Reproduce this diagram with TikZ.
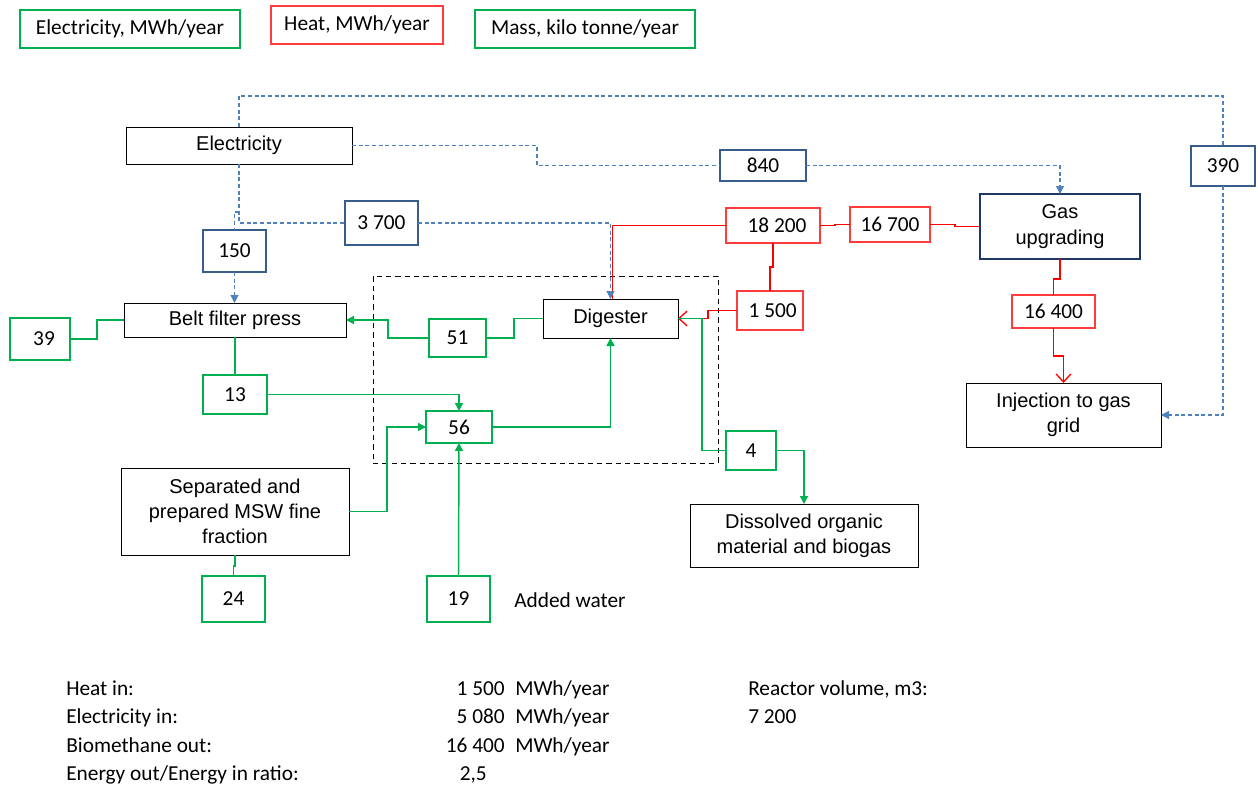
\documentclass[tikz,border=0pt]{standalone}
\usepackage{fontspec}
\setmainfont{Carlito}
\newfontfamily\arialf{Liberation Sans}
\usetikzlibrary{arrows.meta,calc}
\definecolor{gr}{HTML}{00B050}
\definecolor{rd}{HTML}{FF0000}
\definecolor{rdb}{HTML}{FF3B3B}
\definecolor{eb}{HTML}{4F81BD}
\definecolor{ebox}{HTML}{385D8A}
\definecolor{gasb}{HTML}{1F3864}
\newcommand\mybox[7]{\node[#6, minimum width={(#4-(#2))*0.75pt}, minimum height={(#5-(#3))*0.75pt}] (#1) at ({(#2+#4)/2},{(#3+#5)/2}) {#7};}
\tikzset{
 box/.style={draw, line width=0.75pt, inner sep=0pt, outer sep=0pt, font=\arialf\fontsize{15}{19}\selectfont, align=center},
 num/.style={draw, line width=0.9pt, inner sep=0pt, outer sep=0pt, font=\fontsize{16}{18}\selectfont},
 gnum/.style={num, draw=gr},
 rnum/.style={num, draw=rdb},
 enum/.style={num, draw=ebox},
 region/.style={draw, line width=0.75pt, dash pattern=on 4pt off 3pt, inner sep=0pt, outer sep=0pt},
 eline/.style={draw=eb, line width=0.8pt, dash pattern=on 3pt off 2pt},
 gline/.style={draw=gr, line width=1.1pt},
 rline/.style={draw=rd, line width=1pt},
 farrow/.style={-{Triangle[length=6pt,width=6pt]}},
 barb/.style={-{Straight Barb[length=6pt,width=11pt]}},
 txt/.style={inner sep=0pt, font=\fontsize{16}{18}\selectfont, anchor=base west},
 rtxt/.style={inner sep=0pt, font=\fontsize{16}{18}\selectfont, anchor=base east},
}
\begin{document}
\begin{tikzpicture}[x=0.75pt, y=-0.75pt]
\useasboundingbox (0,0) rectangle (1258,785);
% legend
\mybox{lg1}{20}{10}{240}{48}{gnum}{Electricity, MWh/year}
\mybox{lg2}{271}{6}{443}{44}{rnum}{Heat, MWh/year}
\mybox{lg3}{475}{10}{695}{48}{gnum}{Mass, kilo tonne/year}
% region
\mybox{reg}{373}{276}{718}{463}{region}{}
% nodes
\mybox{elec}{126}{127}{352}{164}{box}{Electricity}
\mybox{n840}{720}{150}{806}{181}{enum}{840}
\mybox{n390}{1191}{146}{1255}{186}{enum}{390}
\mybox{n3700}{345}{201}{418}{245}{enum}{3 700}
\mybox{n150}{203}{230}{266}{272}{enum}{150}
\mybox{n18200}{726}{208}{820}{243}{rnum}{\hspace*{6pt}18 200}
\mybox{n16700}{850}{207}{930}{242}{rnum}{16 700}
\mybox{gas}{980}{194}{1140}{259}{box,draw=gasb,line width=1.5pt}{Gas\\upgrading}
\mybox{belt}{124}{303}{346}{337}{box}{Belt filter press}
\mybox{n39}{10}{318}{70}{360}{gnum}{\hspace*{6pt}39}
\mybox{n51}{429}{319}{486}{357}{gnum}{51}
\mybox{dig}{543}{299}{678}{338}{box}{Digester}
\mybox{n1500}{737}{291}{803}{330}{rnum}{\hspace*{4pt}1 500}
\mybox{n16400}{1012}{295}{1095}{328}{rnum}{16 400}
\mybox{inj}{966}{383}{1161}{447}{box}{Injection to gas\\grid}
\mybox{n13}{203}{375}{267}{414}{gnum}{13}
\mybox{n56}{426}{411}{492}{443}{gnum}{56}
\mybox{n4}{726}{431}{776}{470}{gnum}{4}
\mybox{msw}{121}{468}{349}{555}{box}{Separated and\\prepared MSW fine\\fraction}
\mybox{dis}{690}{504}{918}{567}{box}{Dissolved organic\\material and biogas}
\mybox{n24}{202}{576}{265}{622}{gnum}{24}
\mybox{n19}{427}{576}{490}{622}{gnum}{19}
\node[txt] (water) at (514,607) {Added water};
% heat connectors
\draw[rline] (n18200.west) -| ($(dig.north)+(2,0)$);
\draw[rline] (n18200.east) -- ++(15,0) |- (n16700.west);
\draw[rline] (n16700.east) -- ++(25,0) |- (gas.west);
\draw[rline] (n18200.south) -- ++(0,24) -| (n1500.north);
\draw[rline,barb] (n1500.west) -- ++(-29,0) |- (dig.east);
\draw[rline] (gas.south) -- ++(0,20) -| (n16400.north);
\draw[rline,barb] (n16400.south) -- ++(0,28) -| (inj.north);
% electricity connectors
\draw[eline] (elec.north) -- ++(0,-31) -| (n390.north);
\draw[eline,farrow] (n390.south) |- (inj.east);
\draw[eline] (elec.east) -- ++(185,0) |- (n840.west);
\draw[eline,farrow] (n840.east) -| (gas.north);
\draw[eline] (elec.south) |- (n3700.west);
\draw[eline] ($(elec.south)+(0,48)$) -| (n150.north);
\draw[eline,farrow] (n150.south) -- (n150.south |- belt.north);
\draw[eline,farrow] (n3700.east) -| (dig.north);
% mass connectors
\draw[gline] (n39.east) -- ++(27,0) |- (belt.west);
\draw[gline,farrow] (n51.west) -- ++(-41,0) |- (belt.east);
\draw[gline] (dig.west) -- ++(-29,0) |- (n51.east);
\draw[gline] (belt.south) -- (n13.north);
\draw[gline,farrow] (n13.east) -| (n56.north);
\draw[gline,farrow] (msw.east) -- ++(38,0) |- (n56.west);
\draw[gline,farrow] (n19.north) -- (n56.south);
\draw[gline,farrow] (n56.east) -| (dig.south);
\draw[gline] (dig.east) -- ++(24,0) |- (n4.west);
\draw[gline,farrow] (n4.east) -| (dis.north);
\draw[gline] (msw.south) -- ++(0,11) -| (n24.north);
% summary
\node[txt] (h1) at (66,695) {Heat in:};
\node[txt] (h2) at (66,723) {Electricity in:};
\node[txt] (h3) at (66,752) {Biomethane out:};
\node[txt] (h4) at (66,780) {Energy out/Energy in ratio:};
\node[rtxt] (v1) at (505,695) {1 500};
\node[rtxt] (v2) at (505,723) {5 080};
\node[rtxt] (v3) at (505,752) {16 400};
\node[rtxt] (v4) at (487,780) {2,5};
\node[txt] (u1) at (515,695) {MWh/year};
\node[txt] (u2) at (515,723) {MWh/year};
\node[txt] (u3) at (515,752) {MWh/year};
\node[txt] (r1) at (748,695) {Reactor volume, m3:};
\node[txt] (r2) at (748,723) {7 200};
\end{tikzpicture}
\end{document}
